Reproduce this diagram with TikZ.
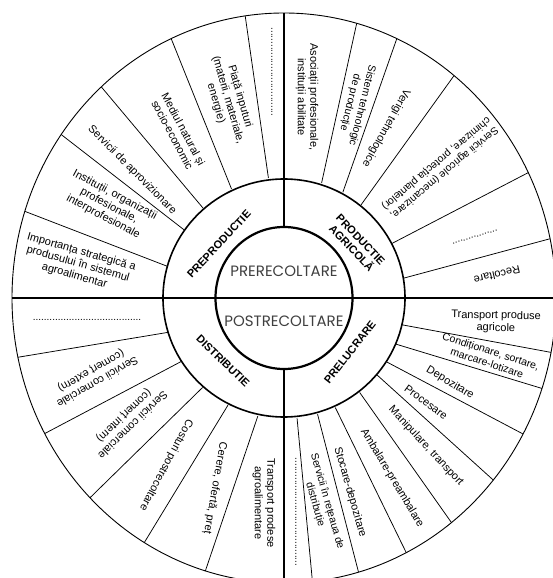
\documentclass[tikz,border=0pt]{standalone}
\usepackage{fontspec}
\setmainfont{Liberation Sans}
\newfontfamily\geofont{Poppins}
\begin{document}
\begin{tikzpicture}[x=1pt,y=1pt,
  lbl/.style={font=\fontsize{11}{12.4}\selectfont, align=center, inner sep=0pt},
  smlbl/.style={font=\fontsize{10.5}{12.4}\selectfont, align=center, inner sep=0pt},
  ringlbl/.style={font=\fontsize{11}{12.5}\selectfont\bfseries, align=center, inner sep=0pt},
  dotlbl/.style={font=\fontsize{10}{12}\selectfont, inner sep=0pt},
  centerlbl/.style={font=\geofont\fontsize{15}{17}\selectfont, text=black!75, inner sep=0pt},
  spoke/.style={line width=0.75pt},
  thinring/.style={line width=0.9pt},
  midring/.style={line width=1.6pt},
  innerring/.style={line width=2.2pt},
  haxis/.style={line width=2.6pt},
  vaxis/.style={line width=1.8pt}]
\clip (-284,-280) rectangle (269,298);
\fill[white] (-284,-280) rectangle (269,298);

% rings
\draw[thinring] (0,0) ellipse [x radius=272, y radius=285];
\draw[midring] (0,0) ellipse [x radius=121, y radius=119];
\draw[innerring] (0,0) ellipse [x radius=68.5, y radius=71];

% axes
\draw[haxis] (-272,0) -- (272,0);
\draw[vaxis] (0,285) -- (0,71);
\draw[vaxis] (0,-71) -- (0,-285);

% spokes (inner angle / outer angle)
\foreach \a/\b in {97.4/98.2, 115.7/114.5, 132/132.2, 145.7/145, 164.8/162.3,
  71.9/74.5, 60.9/65.5, 50.4/51.3, 26.8/26.1, 9.4/12,
  -12.8/-11, -22.4/-18.5, -31.9/-28.5, -39.6/-39.7, -51.3/-52, -64.9/-63.3, -73.9/-74.1, -83.8/-84,
  -102.5/-106.8, -117.6/-120.9, -132.3/-135.5, -148.3/-151.6, -163.5/-168}
  \draw[spoke] (\a:121) -- (\b:272 and 285);

% centre labels
\node[centerlbl] (pre) at (0,27) {PRERECOLTARE};
\node[centerlbl] (post) at (0,-23) {POSTRECOLTARE};

% ring labels
\node[ringlbl, rotate=47] (preprod) at (-65,54) {PREPRODUCTIE};
\node[ringlbl, rotate=-46] (prodagr) at (72,54) {PRODUCTIE\\AGRICOLĂ};
\node[ringlbl, rotate=-44] (distr) at (-61,-63) {DISTRIBUTIE};
\node[ringlbl, rotate=52] (prel) at (66,-54) {PRELUCRARE};

% upper left
\node[dotlbl, rotate=-90] (dotsA) at (-12,226) {................................};
\node[lbl, rotate=-74] (piata) at (-56,198) {Piață inputuri\\(materii, materiale,\\energie)};
\node[lbl, rotate=-62] (mediul) at (-106,166) {Mediul natural și\\socio-economic};
\node[lbl, rotate=-45] (aprov) at (-152,128) {Servicii de aprovizionare};
\node[lbl, rotate=-28] (instit) at (-175,92) {Instituții, organizații\\profesionale,\\interprofesionale};
\node[lbl, rotate=-16] (import) at (-206,34) {Importanța strategică a\\produsului în sistemul\\agroalimentar};

% upper right
\node[lbl, rotate=-90] (asoc) at (23,201) {Asociații profesionale,\\instituții abilitate};
\node[smlbl, rotate=-104] (sistem) at (72,194) {Sistem tehnologic\\de producție};
\node[lbl, rotate=-119] (verigi) at (102,170) {Verigi tehnologice};
\node[smlbl, rotate=-140] (servagr) at (156,130) {Servicii agricole (mecanizare,\\chimizare, protecția plantelor)};
\node[dotlbl, rotate=17] (dotsB) at (191,61) {.................};
\node[lbl, rotate=-167] (recolt) at (213,23) {Recoltare};

% lower right
\node[lbl, rotate=-1] (transp) at (212,-24) {Transport produse\\agricole};
\node[smlbl, rotate=-18] (condit) at (205,-59) {Condiționare, sortare,\\marcare-lotizare};
\node[lbl, rotate=-31] (depoz) at (166,-85) {Depozitare};
\node[lbl, rotate=-36] (proces) at (142,-104) {Procesare};
\node[lbl, rotate=-47] (manip) at (142,-148) {Manipulare, transport};
\node[lbl, rotate=-59] (ambal) at (108,-180) {Ambalare-preambalare};
\node[lbl, rotate=-74] (stoc) at (66,-194) {Stocare-depozitare};
\node[smlbl, rotate=-74] (servret) at (37,-205) {Servicii în rețeaua de\\distribuție};
\node[dotlbl, rotate=-90] (dotsC) at (12,-214) {.......................................};

% lower left
\node[lbl, rotate=-90] (transpag) at (-20,-205) {Transport prodese\\agroalimentare};
\node[lbl, rotate=-100] (cerere) at (-69,-190) {Cerere, ofertă, preț};
\node[lbl, rotate=-118] (costuri) at (-118,-167) {Costuri postrecoltare};
\node[lbl, rotate=-136] (comint) at (-156,-122) {Servicii comerciale\\(comerț intern)};
\node[lbl, rotate=-150] (comext) at (-190,-78) {Servicii comerciale\\(comerț extern)};
\node[dotlbl] (dotsD) at (-197,-22) {.......................................};
\end{tikzpicture}
\end{document}
